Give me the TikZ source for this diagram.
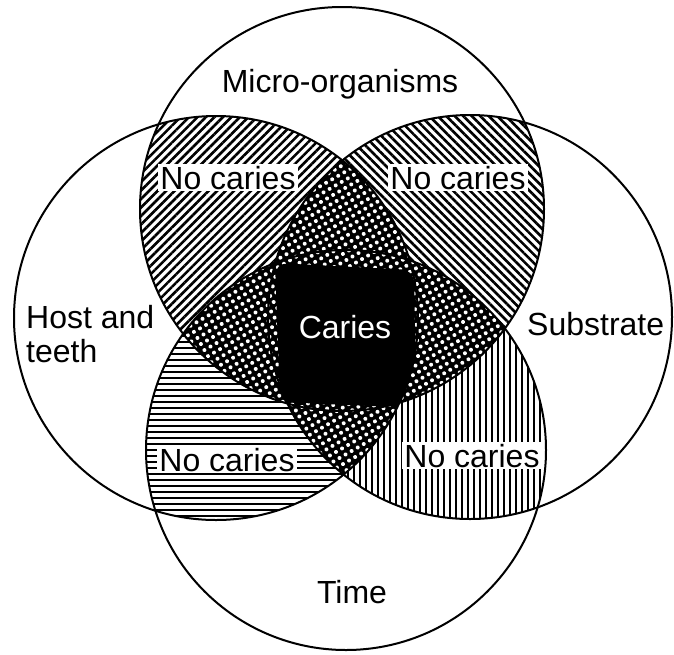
\documentclass[tikz,border=0pt]{standalone}
\usepackage{fontspec}
\setmainfont{Liberation Sans}
\usetikzlibrary{patterns.meta}
\tikzset{
  ring/.style={line width=2pt},
  hatch/.style={pattern={Lines[angle=#1, distance=6pt, line width=2.6pt]}},
  dotfill/.style={fill=black, postaction={pattern={Dots[distance=7pt, radius=2pt, angle=30]}, pattern color=white}},
  lbl/.style={font=\fontsize{32}{34}\selectfont, inner sep=0pt, anchor=base},
  nocaries/.style={lbl, fill=white, inner sep=2pt},
}

\begin{document}
\begin{tikzpicture}[x=1pt, y=-1pt]
  \useasboundingbox (0,0) rectangle (674,654);
  \coordinate (mic) at (342,209);
  \coordinate (host) at (216,318);
  \coordinate (sub) at (470,317);
  \coordinate (time) at (346,450);

  \begin{scope}
    \clip (mic) circle[radius=202pt];
    \fill[hatch=45] (host) circle[radius=202pt];
    \fill[hatch=-45] (sub) circle[radius=202pt];
  \end{scope}
  \begin{scope}
    \clip (time) circle[radius=200pt];
    \fill[hatch=0] (host) circle[radius=202pt];
    \fill[hatch=90] (sub) circle[radius=202pt];
  \end{scope}

  \begin{scope}
    \clip (mic) circle[radius=202pt];
    \clip (host) circle[radius=202pt];
    \fill[dotfill] (sub) circle[radius=202pt];
    \fill[dotfill] (time) circle[radius=200pt];
  \end{scope}
  \begin{scope}
    \clip (time) circle[radius=200pt];
    \clip (sub) circle[radius=202pt];
    \fill[dotfill] (mic) circle[radius=202pt];
    \fill[dotfill] (host) circle[radius=202pt];
  \end{scope}
  \begin{scope}
    \clip (mic) circle[radius=202pt];
    \clip (host) circle[radius=202pt];
    \clip (sub) circle[radius=202pt];
    \clip (time) circle[radius=200pt];
    \fill[black, rounded corners=12pt] (275,263) -- (414,270) -- (416,408) -- (280,402) -- cycle;
  \end{scope}

  \draw[ring] (mic) circle[radius=202pt];
  \draw[ring] (host) circle[radius=202pt];
  \draw[ring] (sub) circle[radius=202pt];
  \draw[ring] (time) circle[radius=200pt];

  \node[lbl] (micro) at (340,92) {Micro-organisms};
  \node[lbl, anchor=north west, align=left] (teeth) at (26,305) {Host and\\teeth};
  \node[lbl, anchor=base west] (substrate) at (527,335) {Substrate};
  \node[lbl] (timelbl) at (352,603) {Time};
  \node[lbl, text=white] (caries) at (345,338) {Caries};
  \node[nocaries] (nctl) at (228,189) {No caries};
  \node[nocaries] (nctr) at (458,189) {No caries};
  \node[nocaries] (ncbl) at (227,471) {No caries};
  \node[nocaries] (ncbr) at (472,467) {No caries};
\end{tikzpicture}
\end{document}
